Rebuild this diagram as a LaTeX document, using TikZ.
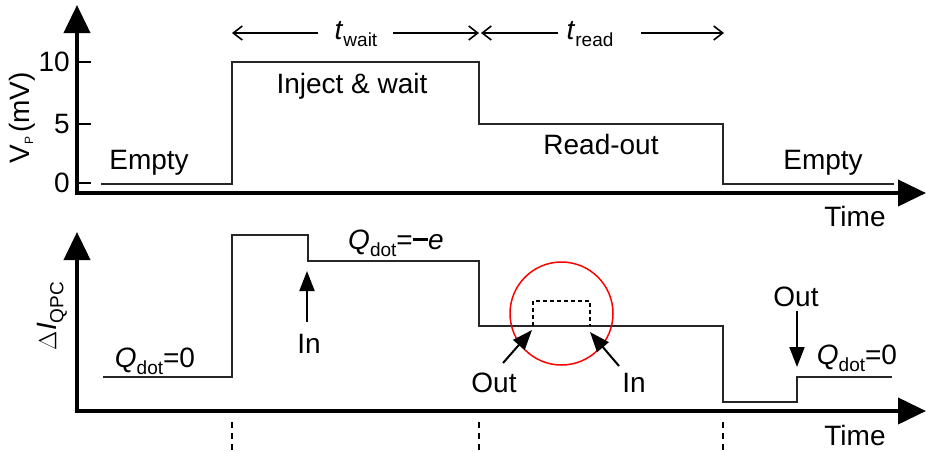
\documentclass[tikz,border=0pt]{standalone}
\usepackage{fontspec}
\setmainfont{Liberation Sans}
\usetikzlibrary{arrows.meta}
\newcommand{\subt}[1]{\raisebox{-7pt}{\fontsize{19}{19}\selectfont #1}}
\begin{document}
\begin{tikzpicture}[x=1pt,y=-1pt,
  axis/.style={line width=4pt,-{Triangle[length=28pt,width=26pt]}},
  wave/.style={line width=2pt,color=black!85},
  tick/.style={line width=2pt},
  lbl/.style={font=\fontsize{28}{32}\selectfont,inner sep=0pt},
  span/.style={line width=1.6pt,-{Straight Barb[length=9pt,width=14pt]}},
  callout/.style={line width=2pt,-{Triangle[length=20pt,width=15pt]}},
  guide/.style={line width=2pt,dash pattern=on 6pt off 5pt}]
\useasboundingbox (0,0) rectangle (926,451);
% ---- top panel ----
\coordinate (ytop1) at (77,5);
\coordinate (xend1) at (926,193);
\draw[axis] (77,195) -- (ytop1);
\draw[axis] (75,193) -- (xend1);
\foreach \yy/\tt in {62/10,124/5,183/0}{
  \draw[tick] (77,\yy) -- (91,\yy);
  \node[lbl,anchor=east] (tk\tt) at (70,\yy) {\tt};
}
\draw[wave] (101,184) -- (232,184) -- (232,62) -- (479,62) -- (479,124) -- (723,124) -- (723,184) -- (894,184);
\node[lbl] (empty1) at (149,163) {Empty};
\node[lbl] (inject) at (352,86) {Inject \& wait};
\node[lbl] (readout) at (601,144) {Read-out};
\node[lbl] (empty2) at (823,163) {Empty};
\node[lbl,rotate=90] (vp) at (22,118) {V\raisebox{-4pt}{\fontsize{12}{12}\selectfont P}\hspace{4pt}(mV)};
\node[lbl] (time1) at (855,216) {Time};
% timing spans
\node[lbl] (tw) at (356,34) {\itshape t\/\normalfont\subt{wait}};
\node[lbl] (tr) at (590,34) {\itshape t\/\normalfont\subt{read}};
\coordinate (w0) at (232,33);
\coordinate (w1) at (479,33);
\coordinate (r0) at (481,33);
\coordinate (r1) at (724,33);
\draw[span] (318,33) -- (w0);
\draw[span] (393,33) -- (w1);
\draw[span] (558,33) -- (r0);
\draw[span] (641,33) -- (r1);
% ---- bottom panel ----
\coordinate (ytop2) at (77,232);
\coordinate (xend2) at (926,411);
\draw[axis] (77,413) -- (ytop2);
\draw[axis] (75,411) -- (xend2);
\draw[wave] (103,377) -- (232,377) -- (232,235) -- (308,235) -- (308,261) -- (479,261) -- (479,326) -- (723,326) -- (723,402) -- (797,402) -- (797,377) -- (892,377);
\draw[line width=1.5pt,dash pattern=on 4pt off 3pt] (533,326) -- (533,301) -- (590,301) -- (590,326);
\node[draw=red,line width=1.5pt,circle,minimum size=103pt,inner sep=0pt] (zoomc) at (561.5,313.5) {};
\node[lbl,rotate=90] (di) at (52,316) {$\Delta$\itshape I\/\normalfont\subt{QPC}};
\node[lbl] (time2) at (855,435) {Time};
\node[lbl] (q0a) at (155,361) {\itshape Q\/\normalfont\subt{dot}=0};
\node[lbl] (qe) at (396,243) {\itshape Q\/\normalfont\subt{dot}=\rule[0.3em]{0.55em}{2.4pt}\itshape e};
\node[lbl] (q0b) at (857,358) {\itshape Q\/\normalfont\subt{dot}=0};
% callouts
\node[lbl] (in1) at (309,344) {In};
\coordinate (in1tip) at (307,271);
\draw[callout] (307,322) -- (in1tip);
\node[lbl] (out1) at (494,383) {Out};
\coordinate (out1tip) at (532,330);
\draw[callout] (503,363) -- (out1tip);
\node[lbl] (in2) at (634,383) {In};
\coordinate (in2tip) at (590,332);
\draw[callout] (619,366) -- (in2tip);
\node[lbl] (out2) at (796,297) {Out};
\coordinate (out2tip) at (797,367);
\draw[callout] (797,311) -- (out2tip);
% guides
\foreach \xx in {232,479,723}{
  \draw[guide] (\xx,422) -- (\xx,451);
}
\end{tikzpicture}
\end{document}
